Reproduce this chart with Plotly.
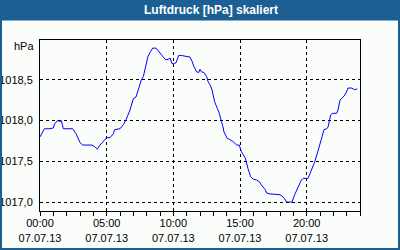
import plotly.graph_objects as go

# hours since 00:00 on 07.07.13
hours = [0.0, 0.33, 0.75, 1.0, 1.1, 1.3, 1.5, 1.6, 1.75, 2.45, 2.7, 3.0, 3.2, 3.9, 4.1, 4.3,
         4.5, 4.75, 5.0, 5.25, 5.5, 5.6, 6.0, 6.25, 6.45, 6.75, 6.9, 7.0, 7.2, 7.3, 7.45,
         7.6, 7.75, 7.9, 8.0, 8.1, 8.3, 8.45, 8.7, 8.9, 9.05, 9.25, 9.4, 9.6, 9.75, 9.9,
         10.0, 10.2, 10.3, 10.4, 10.6, 10.9, 11.25, 11.4, 11.55, 11.75, 11.9, 12.0, 12.1,
         12.3, 12.5, 12.6, 12.75, 12.9, 13.0, 13.1, 13.3, 13.45, 13.6, 13.7, 13.8, 13.9,
         14.05, 14.2, 14.4, 14.5, 14.75, 14.95, 15.0, 15.1, 15.4, 15.5, 15.6, 15.8, 16.0,
         16.25, 16.45, 16.6, 16.9, 17.0, 17.25, 18.0, 18.25, 18.5, 18.9, 19.1, 19.4, 19.6,
         19.75, 20.1, 20.25, 20.4, 20.5, 20.6, 20.8, 20.95, 21.05, 21.15, 21.3, 21.5, 21.6,
         21.75, 21.8, 21.95, 22.25, 22.35, 22.5, 22.6, 22.8, 22.95, 23.1, 23.35, 23.6, 23.8]
pressure = [1017.80, 1017.90, 1017.90, 1017.91, 1017.96, 1018.00, 1017.99, 1018.00, 1017.90,
            1017.90, 1017.84, 1017.73, 1017.70, 1017.70, 1017.68, 1017.65, 1017.70, 1017.74,
            1017.79, 1017.79, 1017.84, 1017.89, 1017.90, 1017.95, 1018.01, 1018.13, 1018.23,
            1018.27, 1018.29, 1018.34, 1018.44, 1018.50, 1018.54, 1018.64, 1018.70, 1018.79,
            1018.85, 1018.89, 1018.89, 1018.85, 1018.81, 1018.77, 1018.75, 1018.75, 1018.77,
            1018.70, 1018.70, 1018.71, 1018.75, 1018.80, 1018.80, 1018.79, 1018.78, 1018.73,
            1018.66, 1018.60, 1018.59, 1018.63, 1018.60, 1018.59, 1018.54, 1018.48, 1018.44,
            1018.38, 1018.29, 1018.23, 1018.15, 1018.09, 1017.99, 1017.94, 1017.86, 1017.82,
            1017.78, 1017.77, 1017.75, 1017.74, 1017.70, 1017.70, 1017.67, 1017.62, 1017.54,
            1017.47, 1017.41, 1017.31, 1017.28, 1017.27, 1017.25, 1017.21, 1017.15, 1017.11,
            1017.10, 1017.09, 1017.06, 1017.00, 1017.00, 1017.09, 1017.19, 1017.27, 1017.29,
            1017.29, 1017.35, 1017.41, 1017.47, 1017.49, 1017.60, 1017.70, 1017.76, 1017.80,
            1017.89, 1017.90, 1017.92, 1018.01, 1018.07, 1018.09, 1018.09, 1018.13, 1018.25,
            1018.27, 1018.30, 1018.34, 1018.40, 1018.40, 1018.38, 1018.39]

x_tickvals = [0, 5, 10, 15, 20]
x_ticktext = ["00:00<br>07.07.13", "05:00<br>07.07.13", "10:00<br>07.07.13",
              "15:00<br>07.07.13", "20:00<br>07.07.13"]
y_tickvals = [1017.0, 1017.5, 1018.0, 1018.5]
y_ticktext = ["1017,0", "1017,5", "1018,0", "1018,5"]

title_text = "Luftdruck [hPa] skaliert"
unit_text = "hPa"

W, H = 400, 250
ML, MR, MT, MB = 40, 40, 40, 39
PW, PH = W - ML - MR, H - MT - MB

def px(xp):
    return (xp - ML) / PW

def py(yp):
    return (H - MB - yp) / PH

BLUE = "#1c5f94"
BG = "#fbfdfb"
FONT = "Liberation Sans, Arial, sans-serif"

fig = go.Figure()
fig.add_trace(go.Scatter(x=hours, y=pressure, mode="lines",
                         line=dict(color="#0000ff", width=1), showlegend=False,
                         hoverinfo="skip"))

fig.update_layout(
    width=W, height=H,
    margin=dict(l=ML, r=MR, t=MT, b=MB, pad=0, autoexpand=False),
    paper_bgcolor=BG, plot_bgcolor=BG,
    font=dict(family=FONT, size=11, color="#000000"),
    showlegend=False,
    xaxis=dict(range=[0, 24], tickvals=x_tickvals, ticktext=x_ticktext,
               showgrid=True, gridcolor="#000000", gridwidth=1, griddash="3px,3px",
               showline=True, linecolor="#000000", linewidth=1, mirror=True,
               ticks="outside", ticklen=4, tickcolor="#000000", tickwidth=1,
               minor=dict(dtick=1, tick0=0, ticks="outside", ticklen=4,
                          tickcolor="#000000", showgrid=False),
               zeroline=False, fixedrange=True, ticklabelstandoff=-2, automargin=False),
    yaxis=dict(range=[1016.89, 1018.99], tickvals=y_tickvals, ticktext=y_ticktext,
               showgrid=True, gridcolor="#000000", gridwidth=1, griddash="3px,3px",
               showline=True, linecolor="#000000", linewidth=1, mirror=True,
               ticks="", zeroline=False, fixedrange=True, ticklabelstandoff=4,
               automargin=False),
    shapes=[
        dict(type="rect", xref="paper", yref="paper",
             x0=px(0), x1=px(W), y0=py(0), y1=py(20.5),
             fillcolor=BLUE, line=dict(width=0), layer="above"),
        dict(type="rect", xref="paper", yref="paper",
             x0=px(1), x1=px(W - 1), y0=py(1), y1=py(H - 1),
             fillcolor="rgba(0,0,0,0)", line=dict(color=BLUE, width=2), layer="above"),
    ],
    annotations=[
        dict(text="<b>" + title_text + "</b>", xref="paper", yref="paper",
             x=px(211), y=py(10.5), xanchor="center", yanchor="middle",
             showarrow=False, font=dict(family=FONT, size=12, color="#ffffff")),
        dict(text=unit_text, xref="paper", yref="paper",
             x=px(36), y=py(46), xanchor="right", yanchor="middle",
             showarrow=False, font=dict(family=FONT, size=11, color="#000000")),
    ],
)

fig.write_html("out.html", config={"displayModeBar": False})
